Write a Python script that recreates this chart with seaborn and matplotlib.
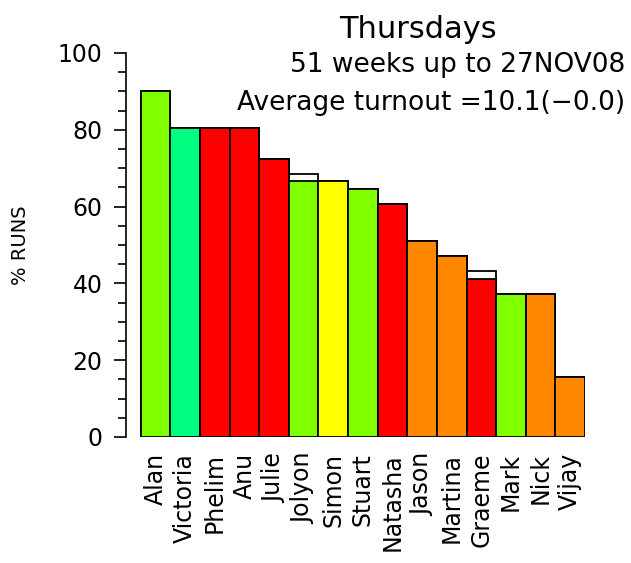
import matplotlib
matplotlib.use("Agg")
import matplotlib.pyplot as plt
import seaborn as sns
from matplotlib.ticker import MultipleLocator

# dados (% de corridas em 51 semanas)
nomes = ["Alan", "Victoria", "Phelim", "Anu", "Julie", "Jolyon", "Simon", "Stuart",
         "Natasha", "Jason", "Martina", "Graeme", "Mark", "Nick", "Vijay"]
pct_runs = [90.2, 80.4, 80.4, 80.4, 72.5, 66.7, 66.7, 64.7,
            60.8, 51.0, 47.1, 41.2, 37.3, 37.3, 15.7]
# contorno branco = valor anterior (quando mudou)
pct_antes = [90.2, 80.4, 80.4, 80.4, 72.5, 68.6, 66.7, 64.7,
             60.8, 51.0, 47.1, 43.1, 37.3, 37.3, 15.7]
cores = ["#80ff00", "#00ff80", "#ff0000", "#ff0000", "#ff0000", "#80ff00", "#ffff00", "#80ff00",
         "#ff0000", "#ff8800", "#ff8800", "#ff0000", "#80ff00", "#ff8800", "#ff8800"]

sns.set_theme(style="white")
plt.rcParams["font.family"] = ["DejaVu Sans"]
plt.rcParams["text.color"] = "black"
plt.rcParams["axes.labelcolor"] = "black"
plt.rcParams["xtick.color"] = "black"
plt.rcParams["ytick.color"] = "black"

fig = plt.figure(figsize=(6.31, 5.63), dpi=100)
ax = fig.add_axes([126 / 631, 1 - 437 / 563, (585 - 126) / 631, 384 / 563])

# barras de contorno (valor anterior)
sns.barplot(x=nomes, y=pct_antes, color="white", edgecolor="black",
            linewidth=1.3, width=1, ax=ax)
# barras coloridas
sns.barplot(x=nomes, y=pct_runs, hue=nomes, palette=cores, legend=False,
            edgecolor="black", linewidth=1.3, width=1, saturation=1, ax=ax)

ax.set_xlim(-1.0, 14.5)
ax.set_ylim(0, 100)
ax.yaxis.set_major_locator(MultipleLocator(20))
ax.yaxis.set_minor_locator(MultipleLocator(5))
ax.tick_params(axis="y", which="major", left=True, length=9, width=1.2,
               labelsize=17, pad=8)
ax.tick_params(axis="y", which="minor", left=True, length=5.5, width=1.2)
ax.tick_params(axis="x", bottom=False, length=0, labelsize=17, rotation=90, pad=11.5)

for s in ["top", "right", "bottom"]:
    ax.spines[s].set_visible(False)
ax.spines["left"].set_color("black")
ax.spines["left"].set_linewidth(1.2)
ax.set_ylabel("% RUNS", fontsize=14)
ax.yaxis.set_label_coords((30 - 126) / 459, 0.5)
ax.set_xlabel("")

fig.text(418 / 631, 1 - 30 / 563, "Thursdays", ha="center", va="center", fontsize=22)
fig.text(625 / 631, 1 - 65 / 563, "51 weeks up to 27NOV08", ha="right", va="center", fontsize=19)
fig.text(625 / 631, 1 - 103 / 563, "Average turnout =10.1(\u22120.0)", ha="right", va="center", fontsize=19)

fig.savefig("out.png", dpi=100, facecolor="white")
